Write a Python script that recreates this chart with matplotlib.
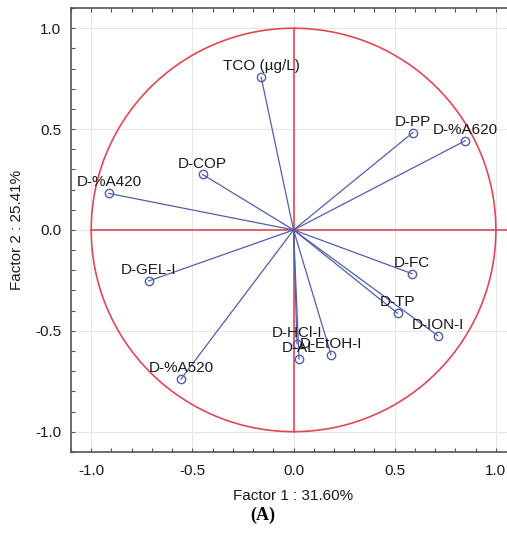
import matplotlib.pyplot as plt
import numpy as np

plt.rcParams['font.family'] = ['Liberation Sans', 'DejaVu Sans']
plt.rcParams['axes.unicode_minus'] = False

# factor loadings (Factor 1, Factor 2)
variables = ["TCO (µg/L)", "D-PP", "D-%A620", "D-COP", "D-%A420",
             "D-GEL-I", "D-FC", "D-TP", "D-ION-I", "D-HCl-I",
             "D-AL", "D-EtOH-I", "D-%A520"]
factor1 = [-0.16, 0.59, 0.848, -0.449, -0.913,
           -0.716, 0.586, 0.514, 0.713, 0.017,
           0.027, 0.185, -0.556]
factor2 = [0.757, 0.483, 0.442, 0.275, 0.181,
           -0.253, -0.217, -0.413, -0.524, -0.564,
           -0.640, -0.618, -0.739]

red = "#e04858"
blue = "#5060a8"

fig = plt.figure(figsize=(5.07, 5.36), dpi=100)
ax = fig.add_axes([0.140, 0.157, 0.878, 0.828])

# unit circle and centre cross
t = np.linspace(0, 2 * np.pi, 400)
ax.plot(np.cos(t), np.sin(t), color=red, lw=1.2, zorder=2)
ax.plot([-1, 1.1], [0, 0], color=red, lw=1.2, zorder=2)
ax.plot([0, 0], [-1, 1], color=red, lw=1.2, zorder=2)

for name, x, y in zip(variables, factor1, factor2):
    ax.plot([0, x], [0, y], color=blue, lw=0.9, zorder=3)
    ax.plot(x, y, 'o', ms=6, mfc='none', mec=blue, mew=1.0, zorder=4)
    ax.annotate(name, (x, y), xytext=(0, 5), textcoords='offset points',
                ha='center', va='baseline', fontsize=11, color='#1a1a1a',
                zorder=5)

ax.set_xlim(-1.1, 1.1)
ax.set_ylim(-1.1, 1.1)
ax.set_xticks([-1.0, -0.5, 0.0, 0.5, 1.0])
ax.set_yticks([-1.0, -0.5, 0.0, 0.5, 1.0])
ax.set_xticks(np.arange(-1.1, 1.11, 0.1), minor=True)
ax.set_yticks(np.arange(-1.1, 1.11, 0.1), minor=True)
ax.tick_params(which='both', direction='in', top=True, length=3,
               width=0.8, color='#555555')
ax.tick_params(axis='x', labelsize=11, pad=9, labelcolor='#1a1a1a')
ax.tick_params(axis='y', labelsize=11, pad=7, labelcolor='#1a1a1a')
ax.grid(True, which='major', color='#e6e6e6', lw=0.7, zorder=0)

for side in ['left', 'bottom', 'top']:
    ax.spines[side].set_color('#555555')
    ax.spines[side].set_linewidth(1.2)
ax.spines['right'].set_visible(False)

ax.set_xlabel("Factor 1 : 31.60%", fontsize=11, labelpad=8, color='#1a1a1a')
ax.set_ylabel("Factor 2 : 25.41%", fontsize=11, labelpad=8, color='#1a1a1a')

fig.text(0.519, 0.022, "(A)", ha='center', va='bottom', fontsize=13,
         fontweight='bold', family=['Liberation Serif', 'DejaVu Serif'])

fig.savefig("out.png", dpi=100)
